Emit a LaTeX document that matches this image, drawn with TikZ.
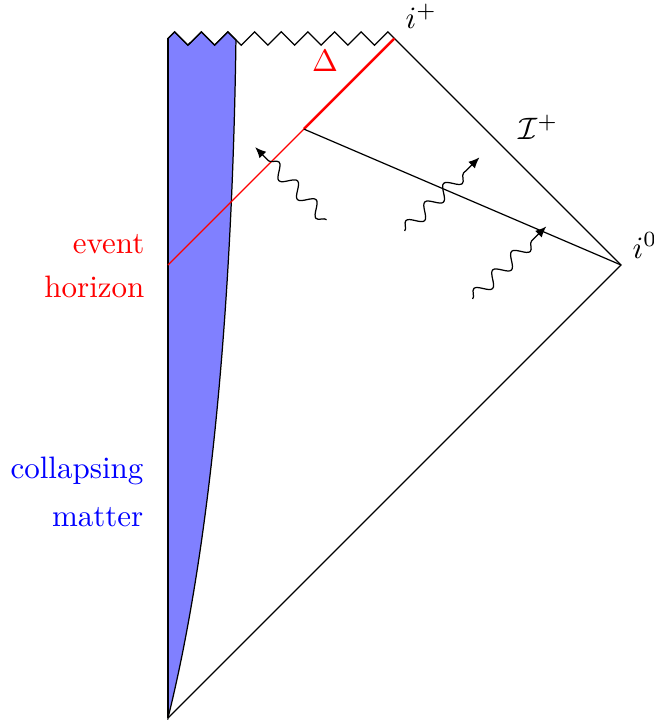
\documentclass[tikz,border=0pt]{standalone}
\usetikzlibrary{decorations.pathmorphing,arrows.meta}
\begin{document}
\begin{tikzpicture}[x=1.284cm,y=1.284cm,line width=0.4pt,
  wavy/.style={decorate,decoration={snake,amplitude=0.75mm,segment length=3mm,post length=2mm},-{Latex[length=3.5pt,width=3pt]}},
  lbl/.style={inner sep=0pt,anchor=base east},
  mlbl/.style={inner sep=0pt,anchor=base west},
  matterfill/.style={fill=blue!50,draw=black},
  horizon/.style={draw=red},
  isolated/.style={draw=red,thick}]
\useasboundingbox (-1.4834,-0.0177) rectangle (4.2914,6.340);
\def\amp{0.0587}
% key points
\coordinate (B) at (0,0);
\coordinate (TL) at (0,6);
\coordinate (ip) at (2,6);
\coordinate (io) at (4,4);
\coordinate (H0) at (0,4);
\coordinate (D) at (1.2,5.2);
\coordinate (MT) at (0.6,{6-0.2*\amp});
% collapsing matter
\path[matterfill] (B) -- (TL)
  foreach \i in {0,...,4} { -- ({(\i+0.5)/8.5},{6+\amp*(1-2*mod(\i,2))}) }
  -- (MT) .. controls (0.567,3.533) and (0.36,1.45) .. (B) -- cycle;
% singularity (zigzag)
\draw (TL) foreach \i in {0,...,16} { -- ({(\i+0.5)/8.5},{6+\amp*(1-2*mod(\i,2))}) } -- (ip);
% boundary
\draw (B) -- (io) -- (ip);
\draw (B) -- (TL);
% horizon
\draw[horizon] (H0) -- (D);
\draw[isolated] (D) -- (ip);
\draw (D) -- (io);
% wavy arrows
\coordinate (w1s) at (1.4,4.4);
\coordinate (w1e) at (0.77,5.04);
\coordinate (w2s) at (2.09,4.30);
\coordinate (w2e) at (2.75,4.95);
\coordinate (w3s) at (2.69,3.70);
\coordinate (w3e) at (3.34,4.34);
\draw[wavy] (w1s) -- (w1e);
\draw[wavy] (w2s) -- (w2e);
\draw[wavy] (w3s) -- (w3e);
% labels
\node[mlbl] (lip) at (2.093,6.09) {$i^+$};
\node[mlbl] (lscri) at (3.09,5.11) {$\mathcal{I}^+$};
\node[mlbl] (lio) at (4.097,4.06) {$i^0$};
\node[inner sep=0pt,anchor=base,text=red] (lD) at (1.386,5.707) {$\Delta$};
\node[lbl,text=red] (ev1) at (-0.203,4.103) {event};
\node[lbl,text=red] (ev2) at (-0.203,3.715) {horizon};
\node[lbl,text=blue] (cm1) at (-0.212,2.117) {collapsing};
\node[lbl,text=blue] (cm2) at (-0.212,1.695) {matter};
\end{tikzpicture}
\end{document}
